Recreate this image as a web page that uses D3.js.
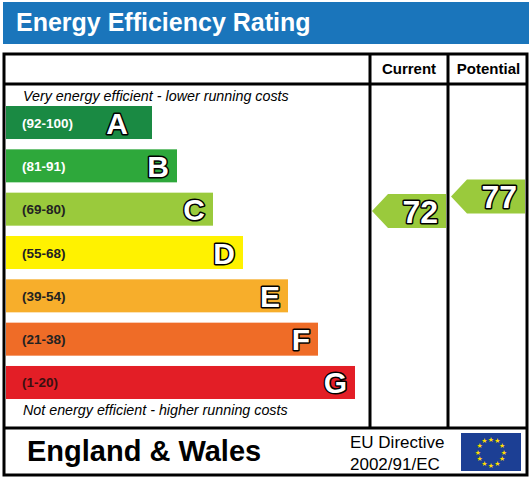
<!DOCTYPE html>
<html><head><meta charset="utf-8">
<script src="https://cdn.jsdelivr.net/npm/d3@7"></script>
<style>body{margin:0;background:#fff}svg{display:block}</style>
</head><body>
<svg id="c" width="532" height="481"></svg>
<script>
const bands = ["A","B","C","D","E","F","G"];
const ranges = ["(92-100)","(81-91)","(69-80)","(55-68)","(39-54)","(21-38)","(1-20)"];
const bandMax = [100,91,80,68,54,38,20];
const bandMin = [92,81,69,55,39,21,1];
const barRight = [152,177,213,243,288,318,355];
const colors = ["#1a8a43","#2ea83b","#9aca3c","#fff200","#f7ae2b","#ef6c27","#e31e26"];
const labelColors = ["#fff","#fff","#222","#222","#222","#222","#3a1010"];
const currentValue = 72, potentialValue = 77;
const title = "Energy Efficiency Rating";

const svg = d3.select("#c");
const F = "Liberation Sans, Arial, sans-serif";
svg.append("rect").attr("x",3).attr("y",2).attr("width",526).attr("height",42).attr("fill","#1a75bb");
svg.append("text").attr("x",16).attr("y",31).attr("fill","#fff").attr("font-family",F)
  .attr("font-weight","bold").attr("font-size",25).text(title);
const L=4,R=527,T=54,B=475,C1=370,C2=448,H=84,FT=428;
const g = svg.append("g").attr("stroke","#000").attr("stroke-width",3).attr("fill","none");
g.append("rect").attr("x",L).attr("y",T).attr("width",R-L).attr("height",B-T);
g.append("line").attr("x1",L).attr("x2",R).attr("y1",H).attr("y2",H);
g.append("line").attr("x1",L).attr("x2",R).attr("y1",FT).attr("y2",FT);
g.append("line").attr("x1",C1).attr("x2",C1).attr("y1",T).attr("y2",FT);
g.append("line").attr("x1",C2).attr("x2",C2).attr("y1",T).attr("y2",FT);
svg.append("text").attr("x",(C1+C2)/2).attr("y",74).attr("text-anchor","middle").attr("font-family",F)
  .attr("font-weight","bold").attr("font-size",15).text("Current");
svg.append("text").attr("x",(C2+R)/2+1).attr("y",74).attr("text-anchor","middle").attr("font-family",F)
  .attr("font-weight","bold").attr("font-size",15).text("Potential");
svg.append("text").attr("x",23).attr("y",101).attr("font-family",F).attr("font-style","italic")
  .attr("font-size",14.3).text("Very energy efficient - lower running costs");
svg.append("text").attr("x",23).attr("y",415).attr("font-family",F).attr("font-style","italic")
  .attr("font-size",14.3).text("Not energy efficient - higher running costs");

const y = d3.scaleBand().domain(bands).range([106,399]).paddingInner(0.238).paddingOuter(0);
const rows = svg.selectAll("g.row").data(bands).join("g").attr("class","row");
rows.append("rect").attr("x",6).attr("y",d=>y(d)).attr("height",y.bandwidth())
  .attr("width",(d,i)=>barRight[i]-6).attr("fill",(d,i)=>colors[i]);
rows.append("text").attr("x",22).attr("y",d=>y(d)+y.bandwidth()/2+5).attr("font-family",F)
  .attr("font-weight","bold").attr("font-size",13.5).attr("fill",(d,i)=>labelColors[i]).text((d,i)=>ranges[i]);
rows.append("text").attr("x",(d,i)=>i===0?128:barRight[i]-8).attr("y",d=>y(d)+y.bandwidth()/2+11)
  .attr("text-anchor","end").attr("font-family",F).attr("font-weight","bold").attr("font-size",30)
  .attr("fill","#fff").attr("stroke","#000").attr("stroke-width",3).attr("stroke-linejoin","round")
  .attr("paint-order","stroke").text(d=>d);

function bandOf(v){ return bandMax.findIndex((m,k)=>v<=m && v>=bandMin[k]); }
function arrowY(v){
  const i = bandOf(v);
  const frac = (bandMax[i]-v)/(bandMax[i]-bandMin[i]);
  return y(bands[i]) - 5 + frac*32;
}
function arrow(v, x0, x1){
  const cy = arrowY(v), h=34, ci=bandOf(v);
  svg.append("path").attr("d",`M${x0},${cy} L${x0+16},${cy-h/2} L${x1},${cy-h/2} L${x1},${cy+h/2} L${x0+16},${cy+h/2} Z`)
    .attr("fill",colors[ci]);
  svg.append("text").attr("x",x1-8).attr("y",cy+12).attr("text-anchor","end").attr("font-family",F)
    .attr("font-weight","bold").attr("font-size",32).attr("fill","#fff").attr("stroke","#000")
    .attr("stroke-width",3).attr("stroke-linejoin","round").attr("paint-order","stroke").text(v);
}
arrow(currentValue, 372, 446);
arrow(potentialValue, 451, 525);

svg.append("text").attr("x",27).attr("y",461).attr("font-family",F).attr("font-weight","bold")
  .attr("font-size",29).text("England & Wales");
svg.append("text").attr("x",350).attr("y",448).attr("font-family",F).attr("font-size",17).text("EU Directive");
svg.append("text").attr("x",350).attr("y",470).attr("font-family",F).attr("font-size",17).text("2002/91/EC");
svg.append("rect").attr("x",461).attr("y",433).attr("width",60).attr("height",38).attr("fill","#1c3f94");
const stars = d3.range(12);
svg.selectAll("text.star").data(stars).join("text").attr("class","star")
  .attr("x",d=>491+13*Math.sin(d*Math.PI/6)).attr("y",d=>452-13*Math.cos(d*Math.PI/6)+2.5)
  .attr("text-anchor","middle").attr("font-size",7).attr("fill","#ffdd00").attr("font-family","DejaVu Sans").text("★");
</script>
</body></html>
